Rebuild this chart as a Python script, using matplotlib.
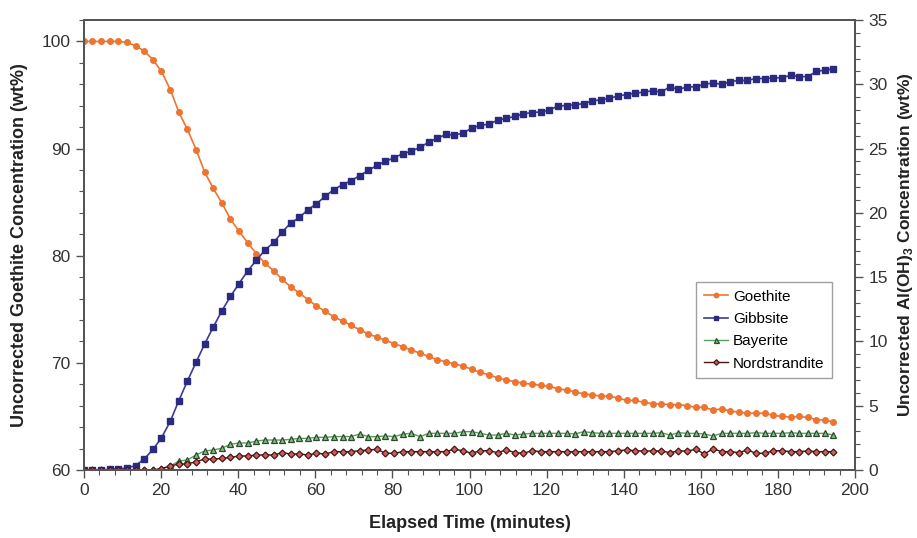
import matplotlib
matplotlib.use("Agg")
import matplotlib.pyplot as plt
from matplotlib.ticker import MultipleLocator

plt.rcParams['font.family'] = ['Liberation Sans', 'DejaVu Sans']
plt.rcParams['mathtext.fontset'] = 'custom'
plt.rcParams['mathtext.rm'] = 'Liberation Sans'
plt.rcParams['mathtext.bf'] = 'Liberation Sans:bold'

time_min = [0, 2.2, 4.5, 6.7, 8.9, 11.2, 13.4, 15.6, 17.9, 20.1,
            22.4, 24.6, 26.8, 29.1, 31.3, 33.5, 35.8, 38.0, 40.2, 42.5,
            44.7, 46.9, 49.2, 51.4, 53.6, 55.9, 58.1, 60.3, 62.6, 64.8,
            67.1, 69.3, 71.5, 73.8, 76.0, 78.2, 80.5, 82.7, 84.9, 87.2,
            89.4, 91.6, 93.9, 96.1, 98.3, 100.6, 102.8, 105.0, 107.3, 109.5,
            111.8, 114.0, 116.2, 118.5, 120.7, 122.9, 125.2, 127.4, 129.6, 131.9,
            134.1, 136.3, 138.6, 140.8, 143.0, 145.3, 147.5, 149.7, 152.0, 154.2,
            156.5, 158.7, 160.9, 163.2, 165.4, 167.6, 169.9, 172.1, 174.3, 176.6,
            178.8, 181.0, 183.3, 185.5, 187.7, 190.0, 192.2, 194.4]

goethite = [100, 100, 100, 100, 100, 99.9, 99.6, 99.1, 98.3, 97.2,
            95.5, 93.4, 91.8, 89.9, 87.8, 86.3, 84.9, 83.4, 82.3, 81.2,
            80.2, 79.3, 78.6, 77.8, 77.1, 76.5, 75.9, 75.3, 74.8, 74.3,
            73.9, 73.5, 73.1, 72.7, 72.4, 72.1, 71.8, 71.5, 71.2, 70.9,
            70.6, 70.3, 70.1, 69.9, 69.7, 69.4, 69.1, 68.9, 68.6, 68.4,
            68.25, 68.1, 68.0, 67.9, 67.8, 67.6, 67.45, 67.3, 67.1, 67.0,
            66.9, 66.9, 66.7, 66.5, 66.5, 66.3, 66.2, 66.15, 66.1, 66.1,
            66.0, 65.85, 65.85, 65.6, 65.7, 65.5, 65.4, 65.3, 65.3, 65.3,
            65.1, 65.0, 64.95, 65.0, 64.9, 64.7, 64.65, 64.5]

gibbsite = [0, 0, 0, 0.05, 0.1, 0.15, 0.35, 0.85, 1.6, 2.5,
            3.8, 5.4, 6.9, 8.4, 9.8, 11.1, 12.4, 13.5, 14.5, 15.5,
            16.3, 17.1, 17.7, 18.5, 19.2, 19.65, 20.25, 20.7, 21.3, 21.8,
            22.2, 22.5, 22.9, 23.3, 23.7, 24.0, 24.3, 24.6, 24.8, 25.1,
            25.5, 25.8, 26.1, 26.05, 26.2, 26.6, 26.8, 26.9, 27.2, 27.35,
            27.5, 27.7, 27.8, 27.85, 28.0, 28.3, 28.35, 28.4, 28.5, 28.7,
            28.8, 28.9, 29.1, 29.2, 29.3, 29.4, 29.5, 29.4, 29.8, 29.6,
            29.8, 29.8, 30.0, 30.1, 30.0, 30.2, 30.3, 30.3, 30.45, 30.45,
            30.5, 30.5, 30.7, 30.6, 30.6, 31.0, 31.1, 31.2]

bayerite = [0, 0, 0, 0, 0, 0, 0, 0, 0, 0.1,
            0.3, 0.7, 0.78, 1.17, 1.48, 1.55, 1.7, 2.0, 2.1, 2.1,
            2.25, 2.33, 2.33, 2.33, 2.38, 2.46, 2.46, 2.54, 2.54, 2.6,
            2.6, 2.6, 2.8, 2.59, 2.59, 2.65, 2.59, 2.8, 2.85, 2.59,
            2.85, 2.85, 2.85, 2.85, 2.98, 2.98, 2.85, 2.72, 2.72, 2.85,
            2.72, 2.8, 2.85, 2.85, 2.85, 2.85, 2.85, 2.8, 2.98, 2.9,
            2.85, 2.85, 2.85, 2.85, 2.85, 2.85, 2.85, 2.9, 2.72, 2.9,
            2.85, 2.85, 2.8, 2.65, 2.85, 2.85, 2.85, 2.85, 2.9, 2.85,
            2.85, 2.85, 2.9, 2.85, 2.85, 2.85, 2.85, 2.72]

nordstrandite = [0, 0, 0, 0, 0, 0, 0, 0, 0, 0.1,
                 0.31, 0.47, 0.47, 0.65, 0.85, 0.85, 0.9, 0.98, 1.09, 1.09,
                 1.17, 1.17, 1.17, 1.35, 1.25, 1.25, 1.17, 1.3, 1.25, 1.43,
                 1.43, 1.43, 1.5, 1.56, 1.61, 1.3, 1.3, 1.43, 1.43, 1.43,
                 1.43, 1.43, 1.43, 1.61, 1.5, 1.3, 1.5, 1.5, 1.35, 1.56,
                 1.35, 1.3, 1.5, 1.43, 1.43, 1.43, 1.43, 1.43, 1.43, 1.43,
                 1.43, 1.43, 1.5, 1.56, 1.5, 1.48, 1.48, 1.48, 1.35, 1.48,
                 1.48, 1.61, 1.25, 1.65, 1.43, 1.43, 1.35, 1.56, 1.3, 1.3,
                 1.5, 1.5, 1.43, 1.43, 1.48, 1.43, 1.43, 1.43]

fig = plt.figure(figsize=(9.17, 5.38), dpi=100)
ax1 = fig.add_axes([84/917, 1-470/538, (855-84)/917, (470-20)/538])
ax2 = ax1.twinx()

spine_c = '#555555'
tick_c = '#333333'

l1, = ax1.plot(time_min, goethite, color='#EE7430', lw=1.2, marker='o', ms=4,
               mfc='#EE7430', mec='#EE7430', label='Goethite')
l2, = ax2.plot(time_min, gibbsite, color='#3A3A9A', lw=1.2, marker='s', ms=4,
               mfc='#2A2A80', mec='#2A2A80', label='Gibbsite')
l3, = ax2.plot(time_min, bayerite, color='#5AA05A', lw=1.0, marker='^', ms=4.5,
               mfc='#7CC07C', mec='#2E4A2E', mew=0.9, label='Bayerite')
l4, = ax2.plot(time_min, nordstrandite, color='#4A1515', lw=1.0, marker='D', ms=3.5,
               mfc='#C86060', mec='#4A1515', mew=0.9, label='Nordstrandite')

ax1.set_xlim(0, 200)
ax1.set_ylim(60, 102)
ax2.set_ylim(0, 35)

ax1.xaxis.set_major_locator(MultipleLocator(20))
ax1.xaxis.set_minor_locator(MultipleLocator(4))
ax1.yaxis.set_major_locator(MultipleLocator(10))
ax1.yaxis.set_minor_locator(MultipleLocator(2))
ax2.yaxis.set_major_locator(MultipleLocator(5))
ax2.yaxis.set_minor_locator(MultipleLocator(1))

for ax in (ax1, ax2):
    for s in ax.spines.values():
        s.set_color(spine_c)
        s.set_linewidth(1.4)
    ax.tick_params(which='major', direction='out', length=6, width=1.0, color=spine_c,
                   labelsize=12.5, labelcolor=tick_c)
    ax.tick_params(which='minor', direction='out', length=3.5, width=0.8, color=spine_c)

ax1.set_xlabel('Elapsed Time (minutes)', fontsize=13, fontweight='bold', color='#222222', labelpad=12)
ax1.set_ylabel('Uncorrected Goethite Concentration (wt%)', fontsize=13, fontweight='bold',
               color='#222222', labelpad=10)
ax2.set_ylabel(r'Uncorrected Al(OH)$_\mathbf{3}$ Concentration (wt%)', fontsize=12.5,
               fontweight='bold', color='#222222', rotation=90, labelpad=6)

leg = ax2.legend(handles=[l1, l2, l3, l4], loc='upper right', bbox_to_anchor=(0.98, 0.435),
                 fontsize=11, frameon=True, fancybox=False, handlelength=1.6,
                 handletextpad=0.3, borderpad=0.5, labelspacing=0.55, markerscale=0.8)
leg.get_frame().set_edgecolor('#888888')
leg.get_frame().set_linewidth(1.0)

fig.savefig('out.png', dpi=100)
